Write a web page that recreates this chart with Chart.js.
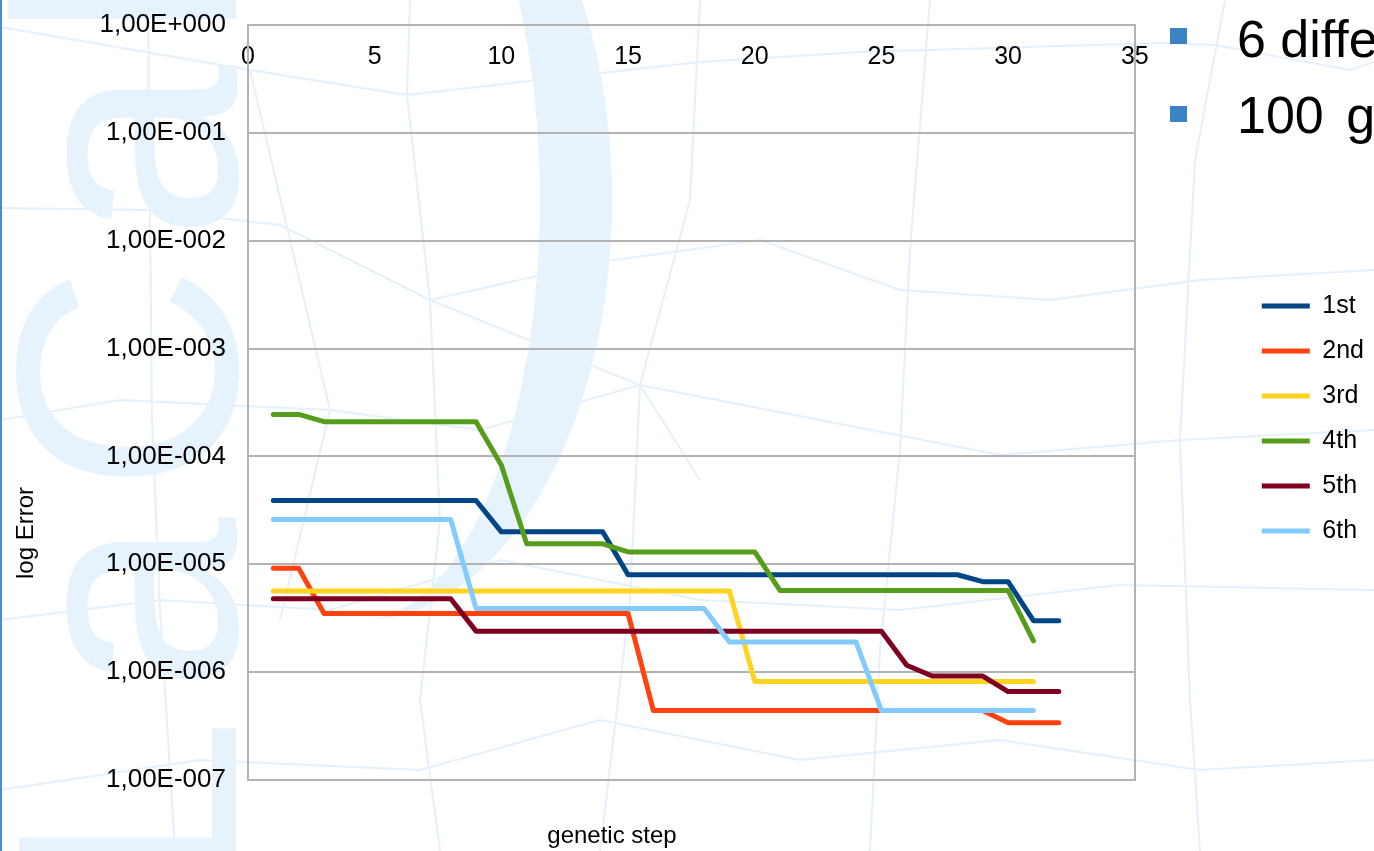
<!DOCTYPE html>
<html lang="en">
<head>
  <meta charset="UTF-8" />
  <title>log Error per genetic step</title>
  <script src="https://cdn.jsdelivr.net/npm/chart.js"></script>
  <style>
    * {
      box-sizing: border-box;
    }
    body {
      margin: 0;
      width: 1374px;
      height: 851px;
      overflow: hidden;
      position: relative;
      background: #fff;
      font-family: "Liberation Sans", Arial, sans-serif;
      color: #000;
    }
    .bg {
      position: absolute;
      left: 0;
      top: 0;
    }
    .crescent {
      position: absolute;
      left: 112px;
      top: -220px;
      width: 500px;
      height: 840px;
      border-radius: 50%;
      border-right: 72px solid #e6f2fc;
    }
    .mark {
      position: absolute;
      left: -30px;
      top: 893px;
      transform-origin: 0 0;
      transform: rotate(-90deg);
      font-size: 315px;
      line-height: 1;
      color: #e6f2fc;
      white-space: nowrap;
      letter-spacing: 25px;
    }
    .edge {
      position: absolute;
      left: 0;
      top: 0;
      width: 2px;
      height: 851px;
      background: #4a8bd3;
    }
    #chart-box {
      position: absolute;
      left: 0;
      top: 0;
      width: 1374px;
      height: 837px;
    }
    .axis-title {
      position: absolute;
      font-size: 24px;
      line-height: 1;
      white-space: nowrap;
      transform: translate(-50%, -50%);
    }
    .axis-title.y {
      transform: translate(-50%, -50%) rotate(-90deg);
    }
    .bullet {
      position: absolute;
      left: 1170px;
      width: 17px;
      height: 16px;
      background: #3b83c6;
    }
    .point {
      position: absolute;
      left: 1237px;
      font-size: 52px;
      line-height: 1;
      white-space: nowrap;
    }
  </style>
</head>
<body>
  <svg class="bg" width="1374" height="851">
    <g fill="none" stroke="#e4f1fc" stroke-width="2">
      <polyline points="0,27 250,70 407,95 520,82 700,62 860,52 1160,43 1215,45 1350,70 1374,62" />
      <polyline points="0,208 150,210 280,225 430,300 600,262 760,240 900,290 1050,300 1200,280 1374,270" />
      <polyline points="0,420 120,400 330,410 480,430 640,385 820,420 1000,455 1180,440 1374,430" />
      <polyline points="0,620 160,600 330,610 500,560 700,600 900,610 1120,585 1374,590" />
      <polyline points="0,790 200,760 420,770 600,720 800,760 1000,740 1200,770 1374,760" />
      <polyline points="148,0 150,210 152,420 160,610 175,851" />
      <polyline points="410,0 407,95 430,300 440,520 420,700 440,851" />
      <polyline points="700,0 690,200 640,385 630,600 600,851" />
      <polyline points="930,0 910,250 900,450 880,650 870,851" />
      <polyline points="1225,0 1195,160 1180,440 1190,700 1200,851" />
      <polyline points="250,70 330,410 280,620" />
      <polyline points="430,300 640,385 700,480" />
    </g>
  </svg>
  <div class="crescent"></div>
  <div class="mark">LaCal</div>
  <div class="edge"></div>

  <div class="bullet" style="top:28px"></div>
  <div class="bullet" style="top:106px"></div>
  <div class="point" style="top:13px">6 different runs</div>
  <div class="point" style="top:89px; word-spacing:8px">100 generations</div>

  <div id="chart-box"><canvas id="chart"></canvas></div>

  <div class="axis-title y" style="left:25px; top:533px">log Error</div>
  <div class="axis-title" style="left:612px; top:835px">genetic step</div>

  <script>
    const steps = [1, 2, 3, 4, 5, 6, 7, 8, 9, 10, 11, 12, 13, 14, 15, 16,
                   17, 18, 19, 20, 21, 22, 23, 24, 25, 26, 27, 28, 29, 30, 31, 32];

    const seriesNames = ["1st", "2nd", "3rd", "4th", "5th", "6th"];
    const seriesColors = ["#004586", "#ff420e", "#ffd320", "#579d1c", "#7e0021", "#83caff"];

    const run1 = [3.9e-5, 3.9e-5, 3.9e-5, 3.9e-5, 3.9e-5, 3.9e-5, 3.9e-5, 3.9e-5, 3.9e-5,
                  2.0e-5, 2.0e-5, 2.0e-5, 2.0e-5, 2.0e-5,
                  8.0e-6, 8.0e-6, 8.0e-6, 8.0e-6, 8.0e-6, 8.0e-6, 8.0e-6, 8.0e-6, 8.0e-6, 8.0e-6,
                  8.0e-6, 8.0e-6, 8.0e-6, 8.0e-6, 6.9e-6, 6.9e-6, 3.0e-6, 3.0e-6];
    const run2 = [9.2e-6, 9.2e-6,
                  3.5e-6, 3.5e-6, 3.5e-6, 3.5e-6, 3.5e-6, 3.5e-6, 3.5e-6, 3.5e-6, 3.5e-6, 3.5e-6,
                  3.5e-6, 3.5e-6, 3.5e-6,
                  4.4e-7, 4.4e-7, 4.4e-7, 4.4e-7, 4.4e-7, 4.4e-7, 4.4e-7, 4.4e-7, 4.4e-7, 4.4e-7,
                  4.4e-7, 4.4e-7, 4.4e-7, 4.4e-7, 3.4e-7, 3.4e-7, 3.4e-7];
    const run3 = [5.65e-6, 5.65e-6, 5.65e-6, 5.65e-6, 5.65e-6, 5.65e-6, 5.65e-6, 5.65e-6,
                  5.65e-6, 5.65e-6, 5.65e-6, 5.65e-6, 5.65e-6, 5.65e-6, 5.65e-6, 5.65e-6,
                  5.65e-6, 5.65e-6, 5.65e-6,
                  8.2e-7, 8.2e-7, 8.2e-7, 8.2e-7, 8.2e-7, 8.2e-7, 8.2e-7, 8.2e-7, 8.2e-7,
                  8.2e-7, 8.2e-7, 8.2e-7];
    const run4 = [2.45e-4, 2.45e-4,
                  2.1e-4, 2.1e-4, 2.1e-4, 2.1e-4, 2.1e-4, 2.1e-4, 2.1e-4,
                  8.3e-5,
                  1.55e-5, 1.55e-5, 1.55e-5, 1.55e-5,
                  1.3e-5, 1.3e-5, 1.3e-5, 1.3e-5, 1.3e-5, 1.3e-5,
                  5.7e-6, 5.7e-6, 5.7e-6, 5.7e-6, 5.7e-6, 5.7e-6, 5.7e-6, 5.7e-6, 5.7e-6, 5.7e-6,
                  1.95e-6];
    const run5 = [4.8e-6, 4.8e-6, 4.8e-6, 4.8e-6, 4.8e-6, 4.8e-6, 4.8e-6, 4.8e-6,
                  2.4e-6, 2.4e-6, 2.4e-6, 2.4e-6, 2.4e-6, 2.4e-6, 2.4e-6, 2.4e-6, 2.4e-6,
                  2.4e-6, 2.4e-6, 2.4e-6, 2.4e-6, 2.4e-6, 2.4e-6, 2.4e-6, 2.4e-6,
                  1.16e-6, 9.2e-7, 9.2e-7, 9.2e-7, 6.6e-7, 6.6e-7, 6.6e-7];
    const run6 = [2.6e-5, 2.6e-5, 2.6e-5, 2.6e-5, 2.6e-5, 2.6e-5, 2.6e-5, 2.6e-5,
                  3.9e-6, 3.9e-6, 3.9e-6, 3.9e-6, 3.9e-6, 3.9e-6, 3.9e-6, 3.9e-6, 3.9e-6, 3.9e-6,
                  1.9e-6, 1.9e-6, 1.9e-6, 1.9e-6, 1.9e-6, 1.9e-6,
                  4.4e-7, 4.4e-7, 4.4e-7, 4.4e-7, 4.4e-7, 4.4e-7, 4.4e-7];

    const xTicks = [0, 5, 10, 15, 20, 25, 30, 35];
    const yTicks = [1, 1e-1, 1e-2, 1e-3, 1e-4, 1e-5, 1e-6, 1e-7];
    const yTickLabels = ["1,00E+000", "1,00E-001", "1,00E-002", "1,00E-003",
                         "1,00E-004", "1,00E-005", "1,00E-006", "1,00E-007"];

    const runs = [run1, run2, run3, run4, run5, run6];
    const frame = "#b3b3b3";

    Chart.defaults.font.family = '"Liberation Sans", Arial, sans-serif';
    Chart.defaults.color = "#000";

    new Chart(document.getElementById("chart"), {
      type: "line",
      data: {
        labels: steps,
        datasets: runs.map((values, i) => ({
          label: seriesNames[i],
          data: values,
          borderColor: seriesColors[i],
          backgroundColor: seriesColors[i],
          borderWidth: 5,
          borderCapStyle: "round",
          borderJoinStyle: "round",
          pointRadius: 0,
          tension: 0,
          fill: false,
          order: runs.length - 1 - i // later series drawn on top
        }))
      },
      options: {
        animation: false,
        responsive: true,
        maintainAspectRatio: false,
        layout: { padding: 0 },
        plugins: {
          tooltip: { enabled: false },
          legend: {
            position: "right",
            align: "center",
            labels: {
              usePointStyle: true,
              pointStyle: "line",
              pointStyleWidth: 48,
              padding: 20,
              color: "#000",
              font: { size: 25 },
              sort: (a, b) => a.datasetIndex - b.datasetIndex
            }
          }
        },
        scales: {
          // x axis sits on the top edge, labels drawn just under it like the original
          x: {
            type: "linear",
            position: { y: 1 },
            min: 0,
            max: 35,
            afterBuildTicks: s => { s.ticks = xTicks.map(v => ({ value: v })); },
            grid: { drawOnChartArea: false, drawTicks: false },
            border: { display: true, color: frame, width: 2 },
            ticks: { padding: 17, maxRotation: 0, autoSkip: false, font: { size: 25 } }
          },
          x2: {
            type: "linear",
            position: "bottom",
            min: 0,
            max: 1,
            afterFit: s => { s.height = 57; },
            grid: { display: false },
            border: { display: false },
            ticks: { display: false }
          },
          y: {
            type: "logarithmic",
            position: "left",
            min: 1e-7,
            max: 1,
            afterBuildTicks: s => { s.ticks = yTicks.map(v => ({ value: v })); },
            afterFit: s => {
              s.width = 248;
              s.paddingTop = 25;
              s.paddingBottom = 0;
            },
            grid: { color: frame, lineWidth: 2, drawTicks: false },
            border: { display: true, color: frame, width: 2 },
            ticks: {
              padding: 22,
              autoSkip: false,
              font: { size: 26 },
              callback: (v, i) => yTickLabels[i]
            }
          },
          y2: {
            type: "linear",
            position: "right",
            min: 0,
            max: 1,
            afterFit: s => { s.width = 107; },
            grid: { display: false },
            border: { display: true, color: frame, width: 2 },
            ticks: { display: false }
          }
        }
      }
    });
  </script>
</body>
</html>
